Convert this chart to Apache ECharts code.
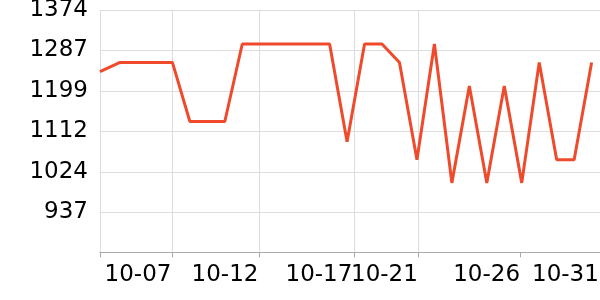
<!DOCTYPE html>
<html>
<head>
<meta charset="utf-8">
<script src="https://cdn.jsdelivr.net/npm/echarts@6/dist/echarts.min.js"></script>
<style>html,body{margin:0;padding:0;background:#fff}#c{width:600px;height:300px}</style>
</head>
<body>
<div id="c"></div>
<script>
// x values are day-of-October numbers (first sample falls late on 10-02)
const days = [2.855,4,5,6,7,8,9,10,11,12,13,14,15,16,17,18,19,20,21,22,23,24,25,26,27,28,29,30,31];
const values = [1241,1261,1261,1261,1261,1133,1133,1133,1301,1301,1301,1301,1301,1301,1089,1301,1301,1261,1050,1301,1000,1210,1000,1210,1000,1261,1050,1050,1261];
const xMin = 2.855, xMax = 31.48;
const xTickDays = [2.855, 7, 12, 17.41, 21.06, 26.9];
const xLabelDays = [5.03, 10.01, 15.39, 19.14, 24.99, 29.5];
const xLabels = ['10-07','10-12','10-17','10-21','10-26','10-31'];
const yMin = 849.5, yMax = 1374;
const yTicks = [937, 1024, 1112, 1199, 1287, 1374];

const seriesData = days.map((d, i) => [d, values[i]]);

const chart = echarts.init(document.getElementById('c'), null, {renderer: 'canvas'});
chart.setOption({
  animation: false,
  grid: {left: 100, right: 0, top: 10.3, bottom: 47.7, containLabel: false, outerBoundsMode: 'none'},
  xAxis: {
    type: 'value', min: xMin, max: xMax,
    axisLine: {show: true, lineStyle: {color: '#aaaaaa', width: 1}},
    axisTick: {show: true, length: 5, customValues: xTickDays, lineStyle: {color: '#aaaaaa'}},
    splitLine: {show: true, showMinLine: true, showMaxLine: false, lineStyle: {color: '#dddddd', width: 1}},
    axisLabel: {
      customValues: xLabelDays, margin: 11,
      fontFamily: 'DejaVu Sans', fontSize: 23, color: '#000',
      showMinLabel: true, showMaxLabel: true,
      formatter: v => { const i = xLabelDays.findIndex(t => Math.abs(t - v) < 1e-6); return i >= 0 ? xLabels[i] : ''; }
    }
  },
  yAxis: {
    type: 'value', min: yMin, max: yMax,
    axisLine: {show: false}, axisTick: {show: false, customValues: yTicks},
    splitLine: {show: true, lineStyle: {color: '#dddddd', width: 1}},
    axisLabel: {customValues: yTicks, margin: 12, fontFamily: 'DejaVu Sans', fontSize: 23, color: '#000',
      formatter: v => String(Math.round(v))}
  },
  series: [{
    type: 'line', data: seriesData, showSymbol: false, clip: true,
    lineStyle: {color: '#ef4a2b', width: 3}, itemStyle: {color: '#ef4a2b'}
  }]
});
</script>
</body>
</html>
